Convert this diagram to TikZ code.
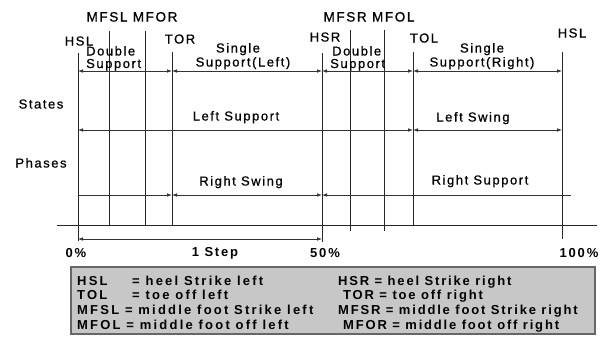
\documentclass[tikz,border=0pt]{standalone}
\usepackage{fontspec}
\setmainfont{Liberation Sans}
\newfontfamily\lblfont{Liberation Sans}[LetterSpace=12,FakeBold=0.8]
\newfontfamily\legfont{Liberation Sans}[LetterSpace=14]
\newfontfamily\legwidefont{Liberation Sans}[LetterSpace=17]
\usetikzlibrary{arrows.meta}
\begin{document}
\begin{tikzpicture}[x=1pt,y=-1pt,
  >={Latex[length=5pt,width=3.6pt]},
  vline/.style={line width=0.9pt, draw=black!85},
  dimline/.style={line width=0.8pt, draw=black!80},
  lbl/.style={font=\lblfont\fontsize{13}{15}\selectfont, inner sep=0pt, anchor=base},
  toplbl/.style={lbl, font=\lblfont\fontsize{13.5}{15}\selectfont},
  pct/.style={font=\legfont\bfseries\fontsize{13}{15}\selectfont, inner sep=0pt, anchor=base},
  leg/.style={font=\legfont\bfseries\fontsize{13}{15}\selectfont, inner sep=0pt, anchor=base west},
  legw/.style={leg, font=\legwidefont\bfseries\fontsize{13}{15}\selectfont},
  legbox/.style={draw=black!60, line width=1.2pt, fill=black!22, minimum width=524pt, minimum height=67pt, inner sep=0pt}
]
\useasboundingbox (0,0) rectangle (607,338);
% row coordinates
\coordinate (rowA) at (0,71);
\coordinate (rowB) at (0,130);
\coordinate (rowC) at (0,195);
\coordinate (rowD) at (0,239);
\coordinate (rCend) at (571,195);
% vertical event lines
\coordinate (HSLat) at (78,53);  \coordinate (HSLab) at (78,241);
\coordinate (MFSLt) at (109,31); \coordinate (MFSLb) at (109,225);
\coordinate (MFORt) at (145,31); \coordinate (MFORb) at (145,225);
\coordinate (TORt) at (172,52);  \coordinate (TORb) at (172,225);
\coordinate (HSRt) at (322,53);  \coordinate (HSRb) at (322,242);
\coordinate (MFSRt) at (350,30); \coordinate (MFSRb) at (350,231);
\coordinate (MFOLt) at (384,30); \coordinate (MFOLb) at (384,231);
\coordinate (TOLt) at (413,52);  \coordinate (TOLb) at (413,225);
\coordinate (HSLbt) at (562,52); \coordinate (HSLbb) at (562,239);
\coordinate (axL) at (57,225);   \coordinate (axR) at (597,225);
\foreach \a/\b in {HSLat/HSLab,MFSLt/MFSLb,MFORt/MFORb,TORt/TORb,HSRt/HSRb,MFSRt/MFSRb,MFOLt/MFOLb,TOLt/TOLb,HSLbt/HSLbb}
  \draw[vline] (\a) -- (\b);
\draw[vline] (axL) -- (axR);
% top row arrows
\draw[dimline,<->] (HSLat |- rowA) -- (TORt |- rowA);
\draw[dimline,<->] (TORt |- rowA) -- (HSRt |- rowA);
\draw[dimline,<->] (HSRt |- rowA) -- (TOLt |- rowA);
\draw[dimline,<->] (TOLt |- rowA) -- (HSLbt |- rowA);
% states row
\draw[dimline,<->] (HSLat |- rowB) -- (TOLt |- rowB);
\draw[dimline,<->] (TOLt |- rowB) -- (HSLbt |- rowB);
% phases row
\draw[dimline,->] (HSLat |- rowC) -- (TORt |- rowC);
\draw[dimline,<->] (TORt |- rowC) -- (HSRt |- rowC);
\draw[dimline,<-] (HSRt |- rowC) -- (rCend);
% one step
\draw[dimline,<->] (HSLat |- rowD) -- (HSRt |- rowD);
% labels
\node[toplbl] (tMA) at (132,21.5) {MFSL MFOR};
\node[toplbl] (tMB) at (369,21.5) {MFSR MFOL};
\node[lbl] (tHSL1) at (79,45.5) {HSL};
\node[lbl] (tTOR) at (180,43.5) {TOR};
\node[lbl] (tHSR) at (325,41.5) {HSR};
\node[lbl] (tTOL) at (424,42.5) {TOL};
\node[lbl] (tHSL2) at (572,37.5) {HSL};
\node[lbl,anchor=base west] (tD1) at (86,55.5) {Double};
\node[lbl,anchor=base west] (tS1) at (86,68) {Support};
\node[lbl,anchor=base west] (tD2) at (332,55.5) {Double};
\node[lbl,anchor=base west] (tS2) at (330,68) {Support};
\node[lbl] (tSi1) at (238,52.5) {Single};
\node[lbl] (tSL) at (243,66.5) {Support(Left)};
\node[lbl] (tSi2) at (482,52.5) {Single};
\node[lbl] (tSR) at (482,66.5) {Support(Right)};
\node[lbl] (tStates) at (41,108.5) {States};
\node[lbl] (tPhases) at (41,167.5) {Phases};
\node[lbl] (tLSup) at (236,120.5) {Left Support};
\node[lbl] (tLSw) at (473,121.5) {Left Swing};
\node[lbl] (tRSw) at (241,185.5) {Right Swing};
\node[lbl] (tRSup) at (480,184.5) {Right Support};
\node[pct] (p0) at (76,257.5) {0\%};
\node[pct] (pStep) at (215,256.5) {1 Step};
\node[pct] (p50) at (325,257.5) {50\%};
\node[pct] (p100) at (579,257.5) {100\%};
% legend
\node[legbox] (legend) at (333,300.5) {};
\node[legw] (l1a) at (77,285.5) {HSL};
\node[legw] (l1b) at (132,285.5) {= heel Strike left};
\node[leg] (l1c) at (338,285.5) {HSR = heel Strike right};
\node[legw] (l2a) at (77,299.5) {TOL};
\node[legw] (l2b) at (132,299.5) {= toe off left};
\node[leg] (l2c) at (343,299.5) {TOR = toe off right};
\node[legw] (l3a) at (77,314.5) {MFSL = middle foot Strike left};
\node[leg] (l3c) at (338,314.5) {MFSR = middle foot Strike right};
\node[legw] (l4a) at (77,329.5) {MFOL = middle foot off left};
\node[leg] (l4c) at (343,329.5) {MFOR = middle foot off right};
\end{tikzpicture}
\end{document}
